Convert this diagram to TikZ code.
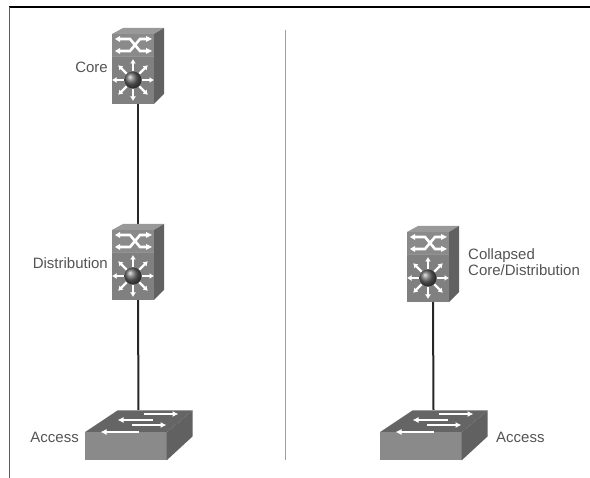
\documentclass[tikz,border=0pt]{standalone}
\usepackage{fontspec}
\setmainfont{Liberation Sans}
\usetikzlibrary{arrows.meta,calc}
\definecolor{faceA}{gray}{0.54}
\definecolor{faceB}{gray}{0.50}
\definecolor{topF}{gray}{0.60}
\definecolor{sideF}{gray}{0.38}
\definecolor{labelC}{gray}{0.33}
\tikzset{
  x=1pt,y=-1pt,
  mlhost/.style={inner sep=0pt,outer sep=0pt,minimum width=52pt,minimum height=76pt},
  swhost/.style={inner sep=0pt,outer sep=0pt,minimum width=109pt,minimum height=51pt},
  lab/.style={font=\fontsize{15}{16}\selectfont,text=labelC,inner sep=0pt},
  link/.style={line width=2pt,black!85},
  bigray/.style={white,line width=2.2pt,-{Latex[length=4.5pt,width=6pt]}},
  swarrow/.style={white,line width=2.4pt,-{Latex[length=6pt,width=6pt]}},
  mlswitch/.pic={
    \fill[topF] (-26,-32) -- (-15,-38) -- (26,-38) -- (16,-32) -- cycle;
    \fill[sideF] (16,-32) -- (26,-38) -- (26,28) -- (16,38) -- cycle;
    \fill[faceA] (-26,-32) rectangle (16,-10);
    \fill[faceB] (-26,-10) rectangle (16,38);
    \draw[gray!85,line width=.6pt] (-26,-9.5) -- (16,-9.5);
    \draw[white,line width=2.6pt] (-18,-27) -- (-8,-27) -- (2,-15) -- (8,-15);
    \draw[white,line width=2.6pt] (-18,-15) -- (-8,-15) -- (2,-27) -- (8,-27);
    \fill[white] (8,-30) -- (14,-27) -- (8,-24) -- cycle;
    \fill[white] (8,-18) -- (14,-15) -- (8,-12) -- cycle;
    \fill[white] (-18,-30) -- (-23,-27) -- (-18,-24) -- cycle;
    \fill[white] (-18,-18) -- (-23,-15) -- (-18,-12) -- cycle;
    \foreach \a in {0,45,...,315}{
      \draw[bigray] ($(-5,14)+(\a:9)$) -- ($(-5,14)+(\a:21)$);
    }
    \shade[ball color=black!60] (-5,14) circle (8.5);
  },
  access/.pic={
    \fill[topF!66!black] (-54,-3) -- (-21,-25) -- (54,-25) -- (28,-3) -- cycle;
    \fill[faceA] (-54,-3) rectangle (28,25);
    \fill[sideF] (28,-3) -- (54,-25) -- (54,1) -- (28,25) -- cycle;
    \draw[swarrow] (5,-21.5) -- (40,-21.5);
    \draw[swarrow] (14,-15.5) -- (-21,-15.5);
    \draw[swarrow] (-6.5,-10.5) -- (28,-10.5);
    \draw[swarrow] (0,-3.5) -- (-38,-3.5);
  },
}
\begin{document}
\begin{tikzpicture}
\useasboundingbox (0,0) rectangle (590,478);
\coordinate (fTL) at (9,7);
\coordinate (fTR) at (590,7);
\coordinate (fBL) at (9,478);
\draw[line width=1.3pt,black] (fTR) -- (fTL);
\draw[line width=1pt,black!65] (fTL) -- (fBL);
\coordinate (sepT) at (285,30);
\coordinate (sepB) at (285,460);
\draw[line width=1pt,gray!75] (sepT) -- (sepB);
\node[mlhost] (core) at (138,66) {};
\node[mlhost] (dist) at (138,262) {};
\node[swhost] (accL) at (138.5,435.5) {};
\node[mlhost] (coll) at (433,264) {};
\node[swhost] (accR) at (433.5,435.5) {};
\draw[link] (core.south) -- (dist.north);
\draw[link] (dist.south) -- (accL.north);
\draw[link] (coll.south) -- (accR.north);
\pic at (core.center) {mlswitch};
\pic at (dist.center) {mlswitch};
\pic at (coll.center) {mlswitch};
\pic at (accL.center) {access};
\pic at (accR.center) {access};
\node[lab,anchor=base east] (lCore) at (108,73) {Core};
\node[lab,anchor=base east] (lDist) at (108,269) {Distribution};
\node[lab,anchor=base east] (lAccL) at (79,443) {Access};
\node[lab,anchor=base west] (lColl) at (468,260) {Collapsed};
\node[lab,anchor=base west] (lCD) at (468,276) {Core/Distribution};
\node[lab,anchor=base west] (lAccR) at (496,443) {Access};
\end{tikzpicture}
\end{document}
